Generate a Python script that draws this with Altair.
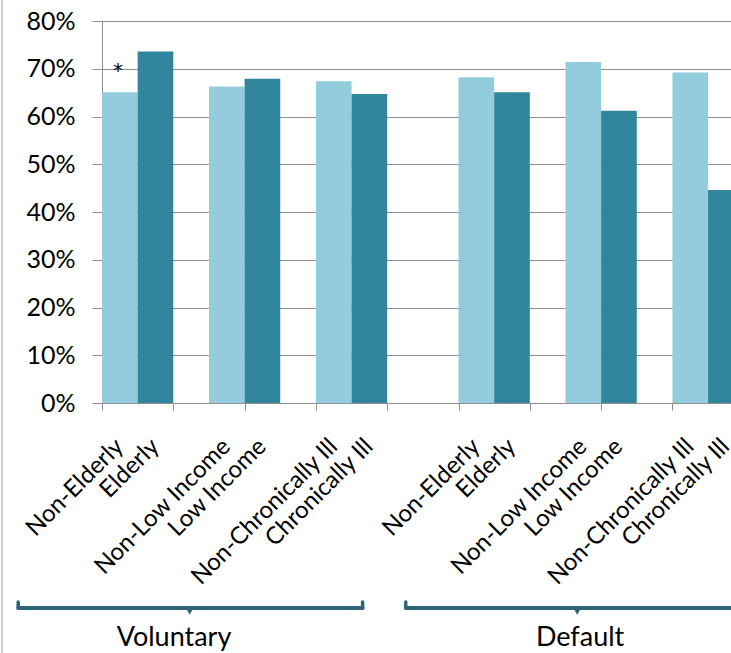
import altair as alt
import pandas as pd

# Subgroup labels (each pair: comparison group, then target group)
subgroups = ["Non-Elderly", "Elderly",
             "Non-Low Income", "Low Income",
             "Non-Chronically Ill", "Chronically Ill"]

# Percentages for the two enrollment approaches
voluntary_values = [65.1, 73.6, 66.3, 67.9, 67.4, 64.7]
default_values = [68.2, 65.1, 71.4, 61.2, 69.2, 44.6]

group_names = ["Voluntary", "Default"]
group_values = [voluntary_values, default_values]

# Bar slot layout: pairs separated by one empty slot, groups by two
GROUP_OFFSET = [0, 10]

rows = []
for g, (name, vals) in enumerate(zip(group_names, group_values)):
    for i, (lab, v) in enumerate(zip(subgroups, vals)):
        slot = GROUP_OFFSET[g] + (i // 2) * 3 + (i % 2)
        rows.append({
            "group": name,
            "label": lab,
            "value": v,
            "slot": slot,
            "slot_end": slot + 1,
            "mid": slot + 0.5,
            "shade": "comparison" if i % 2 == 0 else "target",
        })
bars_df = pd.DataFrame(rows)

# Significance marker above the voluntary Non-Elderly bar
star_df = pd.DataFrame({"x": [0.45], "y": [69.5], "t": ["*"]})

# Bracket spans under each group (in slot units)
bracket_df = pd.DataFrame({
    "name": group_names,
    "x0": [-2.35, 8.52],
    "x1": [7.31, 18.6],
    "xc": [2.46, 13.33],
    "xt": [2.02, 13.41],
})

FONT = "Lato"
LIGHT = "#93CDDD"
DARK = "#31859C"
BRACKET = "#2E6676"
GRID = "#8F8F8F"

W, H = 629, 382
x_scale = alt.Scale(domain=[0, 629 / 35.65], nice=False, zero=False)
y_scale = alt.Scale(domain=[0, 80], nice=False)

base = alt.Chart(bars_df)

bars = base.mark_bar(clip=True).encode(
    x=alt.X("slot:Q", scale=x_scale,
            axis=alt.Axis(values=list(range(0, 18)), labels=False, title=None,
                          grid=False, tickSize=7, tickColor=GRID,
                          domainColor=GRID)),
    x2="slot_end:Q",
    y=alt.Y("value:Q", scale=y_scale,
            axis=alt.Axis(values=list(range(0, 81, 10)),
                          labelExpr="datum.value + '%'",
                          title=None, grid=True, gridColor=GRID,
                          tickSize=10, tickColor=GRID, domainColor=GRID,
                          labelPadding=17, labelFont=FONT, labelFontSize=25,
                          labelColor="black")),
    y2=alt.datum(0),
    color=alt.Color("shade:N", scale=alt.Scale(domain=["comparison", "target"],
                                               range=[LIGHT, DARK]),
                    legend=None),
)

labels = base.mark_text(angle=315, align="right", baseline="middle",
                        font=FONT, fontSize=24, color="black").encode(
    x=alt.X("mid:Q", scale=x_scale),
    y=alt.value(422),
    text="label:N",
)

star = alt.Chart(star_df).mark_text(font="DejaVu Sans", fontSize=20,
                                    color="black", baseline="middle").encode(
    x=alt.X("x:Q", scale=x_scale),
    y=alt.Y("y:Q", scale=y_scale),
    text="t:N",
)

bchart = alt.Chart(bracket_df)
bracket_line = bchart.mark_rule(color=BRACKET, strokeWidth=4,
                                strokeCap="round").encode(
    x=alt.X("x0:Q", scale=x_scale), x2="x1:Q", y=alt.value(587))
hook_left = bchart.mark_rule(color=BRACKET, strokeWidth=3.5,
                             strokeCap="round").encode(
    x=alt.X("x0:Q", scale=x_scale), y=alt.value(581), y2=alt.value(587))
hook_right = bchart.mark_rule(color=BRACKET, strokeWidth=3.5,
                              strokeCap="round").encode(
    x=alt.X("x1:Q", scale=x_scale), y=alt.value(581), y2=alt.value(587))
pointer = bchart.mark_point(shape="triangle-down", filled=True, size=40,
                            color=BRACKET, opacity=1).encode(
    x=alt.X("xc:Q", scale=x_scale), y=alt.value(591))
group_text = bchart.mark_text(font=FONT, fontSize=27, color="black",
                              baseline="middle").encode(
    x=alt.X("xt:Q", scale=x_scale), y=alt.value(617), text="name:N")

# Thin frame line along the left edge of the figure
frame = alt.Chart(pd.DataFrame({"k": [0]})).mark_rule(
    color="#A0A0A0", strokeWidth=1).encode(
    x=alt.value(-100), y=alt.value(-21), y2=alt.value(632))

chart = alt.layer(
    bars, labels, star, bracket_line, hook_left, hook_right, pointer,
    group_text, frame
).properties(
    width=W, height=H,
    autosize=alt.AutoSizeParams(type="none"),
    padding={"left": 102, "top": 21, "right": 0, "bottom": 250},
).configure_view(stroke=None).configure(background="white")

chart.save("out.html", embed_options={"renderer": "svg", "actions": False})
